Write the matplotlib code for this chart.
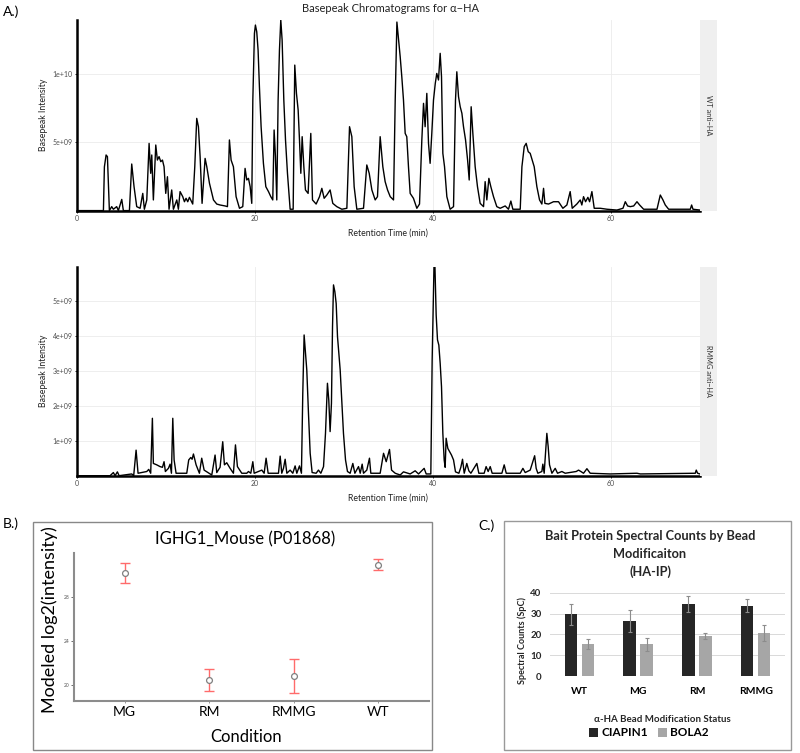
import matplotlib.pyplot as plt
import matplotlib.patches as mpatches
import matplotlib as mpl
import numpy as np

mpl.use('Agg')
plt.rcParams['font.family'] = ['Lato', 'DejaVu Sans']

# --- panel A: basepeak traces (min, intensity in 1e9) ---
wt_time = [0, 3.0, 3.11, 3.3, 3.45, 3.67, 3.93, 4.12, 4.49, 4.68, 5.06, 5.24, 5.92, 6.18, 6.44,
           6.74, 7.12, 7.42, 7.6, 7.87, 8.13, 8.31, 8.43, 8.61, 8.88, 9.06, 9.25, 9.44, 9.63,
           9.81, 10.0, 10.19, 10.37, 10.67, 10.86, 11.24, 11.42, 11.61, 11.91, 12.1, 12.28,
           12.47, 12.66, 13.03, 13.26, 13.48, 13.67, 13.86, 14.08, 14.42, 14.61, 14.91, 15.36,
           15.73, 16.1, 16.67, 16.93, 17.15, 17.34, 17.6, 17.9, 18.28, 18.65, 18.91, 19.1,
           19.29, 19.48, 19.66, 19.78, 19.96, 20.07, 20.22, 20.37, 20.52, 20.71, 20.97, 21.24,
           21.54, 21.8, 22.02, 22.17, 22.32, 22.47, 22.62, 22.77, 22.92, 23.07, 23.26, 23.45,
           23.67, 23.97, 24.31, 24.49, 24.68, 24.87, 25.02, 25.17, 25.32, 25.51, 25.69, 25.99,
           26.29, 26.48, 26.89, 27.27, 27.53, 27.79, 28.09, 28.46, 28.76, 29.21, 29.78, 30.34,
           30.64, 30.9, 31.16, 31.46, 32.21, 32.58, 32.85, 33.15, 33.52, 33.78, 34.08, 34.38,
           34.64, 34.91, 35.21, 35.58, 35.77, 35.96, 36.33, 36.51, 36.7, 36.89, 37.07, 37.26,
           37.45, 37.82, 38.2, 38.5, 38.76, 38.95, 39.13, 39.32, 39.51, 39.69, 39.88, 40.07,
           40.27, 40.44, 40.63, 40.82, 40.97, 41.12, 41.31, 41.57, 41.94, 42.32, 42.54, 42.69,
           42.88, 43.07, 43.26, 43.44, 43.67, 43.9, 44.08, 44.3, 44.49, 44.75, 45.01, 45.31,
           45.69, 45.87, 46.06, 46.29, 46.51, 46.81, 47.18, 47.56, 48.12, 48.49, 48.76, 48.98,
           49.81, 50.0, 50.26, 50.48, 50.71, 50.93, 51.16, 51.38, 51.68, 51.98, 52.24, 52.43,
           52.58, 52.99, 53.55, 54.11, 54.6, 55.05, 55.42, 55.65, 56.17, 56.55, 56.73, 56.92,
           57.15, 57.41, 57.6, 57.86, 58.12, 58.8, 59.55, 60.67, 61.35, 61.61, 61.87, 62.17,
           62.55, 62.92, 63.22, 63.67, 65.17, 65.54, 65.84, 66.1, 66.48, 68.91, 69.06, 69.21,
           70.0]
wt_int = [0, 0, 3.2, 4.07, 3.95, 0, 0.29, 0.1, 0.29, 0, 0.82, 0, 0, 3.41, 1.75,
          0.29, 0.17, 1.26, 0.1, 0.78, 4.92, 2.73, 4.07, 0.78, 4.8, 3.7, 3.95, 3.58, 3.7,
          3.21, 1.26, 2.48, 0.1, 1.51, 0.1, 0.78, 0.1, 1.39, 1.02, 0.65, 0.9,
          0.65, 0.97, 0.48, 3.21, 6.75, 6.14, 3.95, 0.53, 3.82, 3.21, 2.0, 0.78,
          0.48, 0.41, 0.34, 0.29, 5.17, 3.7, 3.21, 1.02, 0.17, 0.29, 3.09, 2.24,
          2.36, 1.75, 0.53, 8.09, 12.97, 13.58, 13.09, 11.75, 9.07, 6.14, 3.46, 1.75,
          1.39, 1.02, 0.78, 5.9, 3.95, 0.78, 8.09, 11.75, 13.95, 12.48, 8.09, 5.17,
          2.73, 0.1, 0.1, 10.65, 8.58, 7.36, 5.17, 2.73, 5.41, 3.21, 1.51, 1.26,
          5.65, 0.78, 0.48, 1.02, 1.63, 0.9, 1.14, 1.51, 0.53, 0.29, 0.1, 0.17,
          6.14, 5.41, 1.75, 0.1, 0.17, 3.34, 2.73, 1.51, 0.78, 1.02, 5.41, 3.21,
          2.12, 1.51, 1.02, 0.78, 8.09, 13.8, 11.26, 9.8, 8.09, 5.65, 5.41, 3.21,
          1.26, 0.9, 0.17, 0.48, 5.17, 7.85, 6.14, 8.58, 4.92, 3.46, 5.65, 8.09,
          9.31, 10.04, 9.56, 11.51, 9.8, 4.19, 3.21, 1.02, 0.1, 0.29, 8.09, 10.16,
          8.34, 7.6, 7.12, 6.14, 5.17, 3.7, 2.24, 7.6, 5.65, 3.21, 1.75, 0.53,
          0.29, 2.12, 0.78, 2.36, 1.75, 1.02, 0.29, 0.17, 0.34, 0.1, 0.7, 0.1,
          0.1, 3.21, 4.68, 4.92, 4.31, 4.19, 3.7, 3.21, 1.75, 0.78, 0.48, 1.63,
          0.53, 0.48, 0.65, 0.65, 0.17, 0.41, 1.39, 0.17, 0.48, 0.78, 0.41, 1.02,
          0.65, 0.97, 0.65, 1.39, 0.17, 0.17, 0.1, 0.04, 0.17, 0.65, 0.34, 0.29,
          0.34, 0.65, 0.41, 0.1, 0.1, 1.14, 0.78, 0.41, 0.1, 0.1, 0.41, 0.1,
          0.04]

rmmg_time = [0, 3.75, 4.12, 4.31, 4.57, 4.76, 6.18, 6.4, 6.67, 6.89, 7.87, 8.09, 8.31, 8.5,
             8.61, 8.99, 9.36, 9.63, 9.81, 9.96, 10.3, 10.49, 10.64, 10.79, 10.94, 11.16,
             12.36, 12.58, 12.81, 12.96, 13.11, 13.41, 13.78, 14.04, 14.31, 15.17, 15.54,
             15.73, 16.1, 16.4, 16.59, 16.85, 17.23, 17.6, 17.83, 18.05, 18.54, 19.1, 19.29,
             19.55, 19.78, 19.93, 20.79, 21.05, 21.27, 21.5, 22.66, 22.85, 23.03, 23.22,
             23.41, 23.6, 23.97, 24.27, 24.53, 24.72, 25.02, 25.24, 25.39, 25.54, 25.69,
             25.84, 26.03, 26.22, 26.44, 26.89, 27.15, 27.42, 27.72, 27.94, 28.16, 28.31,
             28.46, 28.61, 28.73, 28.84, 28.99, 29.14, 29.29, 29.44, 29.59, 29.78, 29.96,
             30.19, 30.41, 30.71, 31.01, 31.24, 31.65, 31.84, 32.06, 32.21, 32.58, 32.88,
             33.03, 34.08, 34.46, 34.76, 35.13, 35.36, 35.77, 36.33, 36.7, 37.45, 38.01,
             38.39, 39.02, 39.25, 39.77, 39.92, 40.03, 40.15, 40.22, 40.37, 40.52, 40.67,
             40.82, 40.97, 41.12, 41.27, 41.38, 41.49, 41.68, 41.87, 42.09, 42.32, 42.54,
             42.92, 43.14, 43.33, 43.52, 43.81, 44.04, 44.27, 44.94, 45.16, 45.76, 45.98,
             46.21, 46.44, 46.66, 47.75, 48.01, 48.24, 49.81, 50.11, 50.37, 50.93, 51.23,
             51.43, 51.6, 51.79, 52.24, 52.35, 52.5, 52.65, 52.8, 52.95, 53.1, 53.37, 53.74,
             54.0, 54.49, 54.86, 56.1, 56.36, 56.62, 56.92, 57.3, 57.67, 59.92, 62.92, 63.3,
             69.47, 69.58, 69.73, 70.0]
rmmg_int = [0, 0, 0.09, 0, 0.11, 0, 0.05, 0, 0.73, 0.07, 0.12, 0.18, 0.07, 1.64,
            0.35, 0.31, 0.26, 0.24, 0.4, 0.12, 0.21, 0.33, 0.07, 1.64, 0.45, 0.07,
            0.07, 0.45, 0.52, 0.47, 0.62, 0.31, 0.07, 0.5, 0.16, 0.02, 0.59,
            0.09, 0.24, 0.97, 0.31, 0.37, 0.21, 0.07, 0.88, 0.26, 0.07, 0.07, 0.12,
            0.07, 0.4, 0.07, 0.16, 0.07, 0.5, 0.07, 0.07, 0.56, 0.07, 0.21,
            0.47, 0.07, 0.16, 0.07, 0.28, 0.07, 0.28, 0.07, 2.35, 4.02, 3.5,
            3.02, 1.78, 0.64, 0.09, 0.07, 0.16, 0.07, 0.26, 1.21, 2.64, 2.16,
            1.26, 2.07, 4.26, 5.45, 5.26, 4.92, 3.97, 3.5, 3.02, 2.07, 1.21,
            0.45, 0.12, 0.07, 0.35, 0.07, 0.26, 0.07, 0.33, 0.07, 0.16, 0.5,
            0.07, 0.07, 0.64, 0.4, 0.75, 0.16, 0.07, 0.02, 0.11, 0.05, 0.14,
            0.05, 0.21, 0.05, 0.05, 3.31, 4.73, 6.3, 6.1, 4.59, 3.88, 3.73,
            3.21, 2.54, 1.21, 0.45, 0.24, 1.07, 0.78, 0.69, 0.59, 0.45, 0.11,
            0.07, 0.24, 0.47, 0.07, 0.35, 0.14, 0.07, 0.35, 0.07, 0.07, 0.26,
            0.12, 0.26, 0.07, 0.07, 0.31, 0.07, 0.07, 0.21, 0.09, 0.16, 0.4,
            0.57, 0.21, 0.07, 0.12, 0.33, 0.07, 0.64, 1.21, 0.83, 0.31, 0.07, 0.21,
            0.07, 0.12, 0.07, 0.12, 0.16, 0.12, 0.07, 0.2, 0.07, 0.05, 0.07, 0.05,
            0.07, 0.16, 0.07, 0.05]

# --- panel B: modeled log2 intensity ---
conditions = ['MG', 'RM', 'RMMG', 'WT']
log2_mean = [30.15, 20.48, 20.85, 30.9]
log2_err = [0.9, 1.02, 1.57, 0.5]

# --- panel C: bait spectral counts ---
bead_status = ['WT', 'MG', 'RM', 'RMMG']
ciapin1 = [29.6, 26.4, 34.5, 33.8]
ciapin1_err = [4.9, 5.2, 3.8, 3.2]
bola2 = [15.5, 15.2, 19.1, 20.7]
bola2_err = [2.4, 3.0, 1.4, 3.7]

W, H = 800, 753
fig = plt.figure(figsize=(W / 100, H / 100), dpi=100)


def fx(x):
    return x / W


def fy(y):
    return 1 - y / H


def chrom_panel(top, bottom, t, y, ymax, yticks, strip_text):
    ax = fig.add_axes([fx(76.7), fy(bottom), fx(700 - 76.7), (bottom - top) / H])
    ax.plot(t, np.array(y) * 1e9, color='black', linewidth=1.0)
    ax.set_xlim(0, 70)
    ax.set_ylim(0, ymax)
    ax.set_xticks([0, 20, 40, 60])
    ax.set_yticks(yticks)
    ax.yaxis.set_major_formatter(mpl.ticker.FuncFormatter(lambda v, p: '%.0e' % v))
    ax.grid(color='#ebebeb', linewidth=0.6)
    ax.set_axisbelow(True)
    for s in ['top', 'right']:
        ax.spines[s].set_visible(False)
    for s in ['left', 'bottom']:
        ax.spines[s].set_linewidth(1.8)
        ax.spines[s].set_zorder(3)
    ax.tick_params(labelsize=5, length=1.5, width=0.6, pad=1.5, labelcolor='#4d4d4d')
    fig.text(fx(388), fy(bottom + 22.5), 'Retention Time (min)', fontsize=6.3,
             ha='center', va='center', color='#222222')
    fig.text(fx(43), fy((top + bottom) / 2), 'Basepeak Intensity', fontsize=6.3,
             rotation=90, ha='center', va='center', color='#222222')
    sax = fig.add_axes([fx(700), fy(bottom), fx(16.7), (bottom - top) / H])
    sax.set_facecolor('#efefef')
    sax.set_xticks([])
    sax.set_yticks([])
    for s in sax.spines.values():
        s.set_visible(False)
    sax.text(0.5, 0.5, strip_text, rotation=-90, fontsize=5.2, color='#333333',
             ha='center', va='center', transform=sax.transAxes)
    return ax


fig.text(fx(3), fy(12), 'A.)', fontsize=10, va='center')
fig.text(fx(390), fy(9), 'Basepeak Chromatograms for α−HA', fontsize=8, ha='center',
         va='center', color='#222222')
chrom_panel(20, 210.6, wt_time, wt_int, 13.95e9, [5e9, 1e10], 'WT anti−HA')
chrom_panel(266.7, 475.7, rmmg_time, rmmg_int, 5.97e9, [1e9, 2e9, 3e9, 4e9, 5e9],
            'RMMG anti−HA')

# --- panel B ---
fig.add_artist(mpatches.Rectangle((fx(33), fy(749.5)), fx(432 - 33), (749.5 - 521.5) / H,
                                  transform=fig.transFigure, fill=False,
                                  edgecolor='#888888', linewidth=1))
fig.text(fx(3), fy(524), 'B.)', fontsize=10, va='center')
axb = fig.add_axes([fx(74), fy(701), fx(429 - 74), (701 - 553) / H])
xb = np.arange(1, len(conditions) + 1)
axb.errorbar(xb, log2_mean, yerr=log2_err, fmt='none', ecolor='#ff6b6b',
             elinewidth=1, capsize=3.3, capthick=1)
axb.plot(xb, log2_mean, 'o', markerfacecolor='white', markeredgecolor='#808080',
         markersize=4.2, markeredgewidth=0.9)
axb.set_xlim(0.4, 4.6)
axb.set_ylim(18.6, 31.95)
axb.set_xticks(xb)
axb.set_xticklabels(conditions, fontsize=10)
axb.set_yticks([20, 24, 28])
axb.tick_params(axis='y', labelsize=3.5, labelcolor='#555555', length=2, width=0.6,
                color='#555555', pad=1)
axb.tick_params(axis='x', length=1.5, width=0.6, color='#888888', pad=2)
for s in ['top', 'right']:
    axb.spines[s].set_visible(False)
for s in ['left', 'bottom']:
    axb.spines[s].set_color('#8c8c8c')
    axb.spines[s].set_linewidth(1.5)
fig.text(fx(245), fy(539), 'IGHG1_Mouse (P01868)', fontsize=12, ha='center', va='center')
fig.text(fx(50), fy(620), 'Modeled log2(intensity)', fontsize=13, rotation=90,
         ha='center', va='center')
fig.text(fx(246), fy(737), 'Condition', fontsize=12, ha='center', va='center')

# --- panel C ---
fig.add_artist(mpatches.Rectangle((fx(504), fy(750)), fx(791 - 504), (750 - 520.7) / H,
                                  transform=fig.transFigure, fill=False,
                                  edgecolor='#999999', linewidth=1))
fig.text(fx(478), fy(526), 'C.)', fontsize=10, va='center')
axc = fig.add_axes([fx(550), fy(676), fx(785 - 550), (676 - 592.7) / H])
xc = np.arange(len(bead_status))
ekw = dict(ecolor='#8c8c8c', elinewidth=0.8, capsize=1.3, capthick=0.8)
axc.bar(xc - 0.145, ciapin1, 0.216, color='#262626', yerr=ciapin1_err,
        error_kw=ekw, label='CIAPIN1', zorder=2)
axc.bar(xc + 0.145, bola2, 0.216, color='#a6a6a6', yerr=bola2_err,
        error_kw=ekw, label='BOLA2', zorder=2)
axc.set_xlim(-0.5, 3.5)
axc.set_ylim(0, 40)
axc.set_yticks([0, 10, 20, 30, 40])
axc.set_xticks(xc)
axc.set_xticklabels(bead_status, fontsize=7.5, fontweight='bold')
for lab in axc.get_yticklabels():
    lab.set_fontweight('bold')
axc.tick_params(axis='y', labelsize=7, length=0, pad=6, labelcolor='#262626')
axc.tick_params(axis='x', length=0, pad=8)
axc.grid(axis='y', color='#d9d9d9', linewidth=0.7)
axc.set_axisbelow(True)
for s in axc.spines.values():
    s.set_visible(False)
fig.text(fx(650), fy(536), 'Bait Protein Spectral Counts by Bead', fontsize=9.2,
         fontweight='bold', ha='center', va='center', color='#262626')
fig.text(fx(650), fy(554), 'Modificaiton', fontsize=9.2, fontweight='bold',
         ha='center', va='center', color='#262626')
fig.text(fx(650), fy(572), '(HA-IP)', fontsize=9.2, fontweight='bold',
         ha='center', va='center', color='#262626')
fig.text(fx(522), fy(641), 'Spectral Counts (SpC)', fontsize=6.5, fontweight='bold',
         rotation=90, ha='center', va='center', color='#262626')
fig.text(fx(662), fy(720), 'α-HA Bead Modification Status', fontsize=7,
         fontweight='bold', ha='center', va='center', color='#262626')
axc.legend(loc='center', bbox_to_anchor=(fx(649), fy(733)), bbox_transform=fig.transFigure,
           ncol=2, frameon=False, prop={'size': 8.5, 'weight': 'bold'},
           handlelength=0.7, handleheight=0.7, handletextpad=0.3, columnspacing=0.9)

fig.savefig('out.png', dpi=100)
